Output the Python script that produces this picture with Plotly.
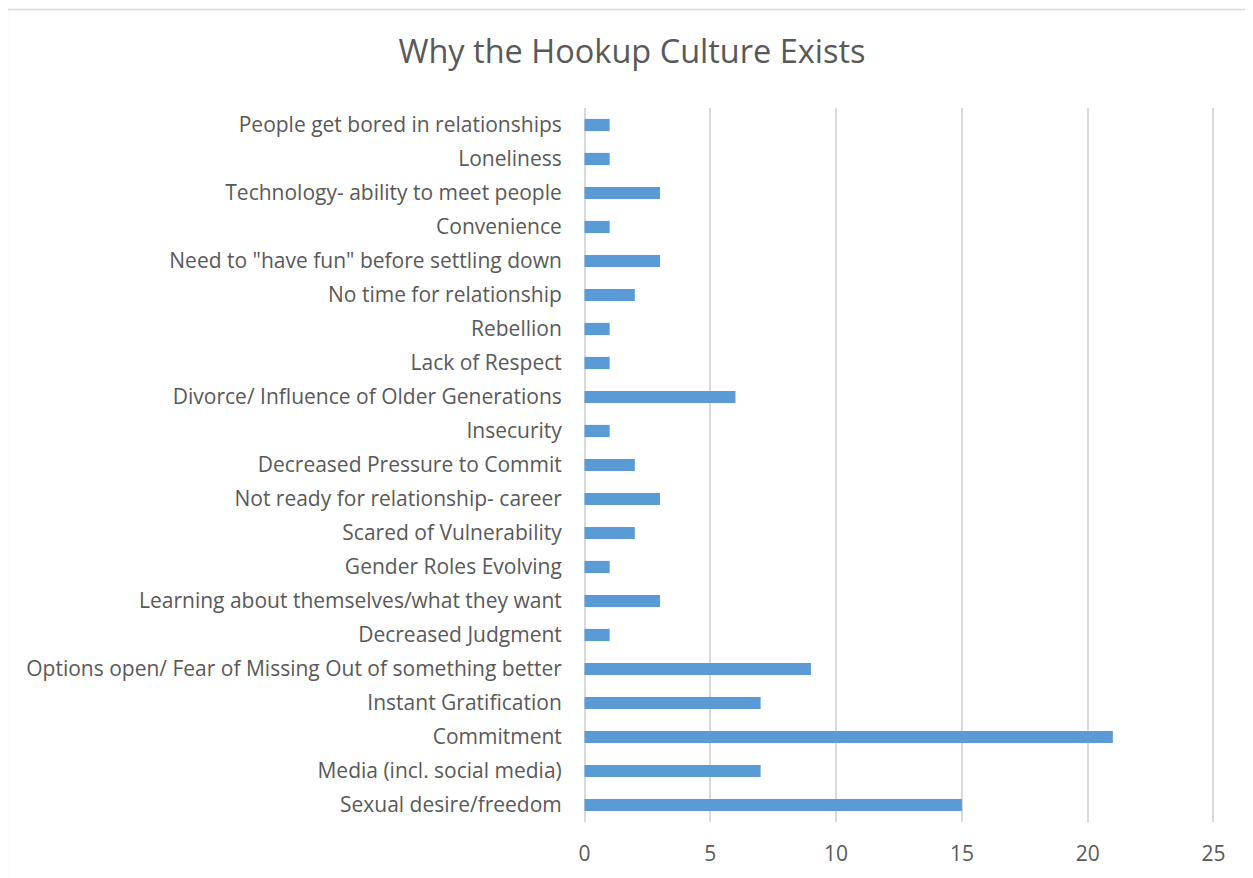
import plotly.graph_objects as go

categories = [
    "Sexual desire/freedom",
    "Media (incl. social media)",
    "Commitment",
    "Instant Gratification",
    "Options open/ Fear of Missing Out of something better",
    "Decreased Judgment",
    "Learning about themselves/what they want",
    "Gender Roles Evolving",
    "Scared of Vulnerability",
    "Not ready for relationship- career",
    "Decreased Pressure to Commit",
    "Insecurity",
    "Divorce/ Influence of Older Generations",
    "Lack of Respect",
    "Rebellion",
    "No time for relationship",
    "Need to \"have fun\" before settling down",
    "Convenience",
    "Technology- ability to meet people",
    "Loneliness",
    "People get bored in relationships",
]
values = [15, 7, 21, 7, 9, 1, 3, 1, 2, 3, 2, 1, 6, 1, 1, 2, 3, 1, 3, 1, 1]
x_ticks = [0, 5, 10, 15, 20, 25]

# page body has 8px margin, so figure coordinates are screen - 8
OFF = 8
W, H = 1245, 870
pad = 0.06
ppu = (1213 - 585) / 25.0
L = 585 - OFF - pad * ppu
Rt = 1213 - OFF + pad * ppu
R = W - Rt
T = 108 - OFF
B = H - (822 - OFF)
pw, ph = W - L - R, H - T - B

fig = go.Figure(go.Bar(
    x=values, y=categories, orientation="h",
    marker=dict(color="#5B9BD5", line=dict(width=0)),
    width=0.36,
))

fig.update_layout(
    width=W, height=H,
    margin=dict(l=L, r=R, t=T, b=B, autoexpand=False),
    paper_bgcolor="white", plot_bgcolor="white",
    font=dict(family="Open Sans, Segoe UI, sans-serif", color="#595959", size=21),
    title=dict(text="Why the Hookup Culture Exists", x=(632 - OFF) / W, xanchor="center",
               y=1 - (52 - OFF) / H, yanchor="middle",
               font=dict(size=32.5, color="#595959")),
    showlegend=False,
)
fig.update_xaxes(
    range=[-pad, 25 + pad], tickvals=x_ticks, ticktext=[str(v) for v in x_ticks],
    showgrid=True, gridcolor="#d9d9d9", gridwidth=1.5,
    zeroline=False, showline=False,
    ticks="outside", ticklen=13, tickcolor="rgba(0,0,0,0)",
    tickfont=dict(size=21, color="#595959"),
)
fig.update_yaxes(
    categoryorder="array", categoryarray=categories,
    range=[-0.5, len(categories) - 0.5],
    showgrid=False, zeroline=False, showline=False,
    ticks="outside", ticklen=16, tickcolor="rgba(0,0,0,0)",
    tickfont=dict(size=21, color="#595959"),
)

# outer chart border (light gray)
fig.add_shape(type="rect", xref="paper", yref="paper",
              x0=(0.75 - L) / pw, x1=(W + 20 - L) / pw,
              y0=-(B + 20) / ph, y1=1 + (T - 1.5) / ph,
              line=dict(color="#d9d9d9", width=1.5), fillcolor="rgba(0,0,0,0)",
              layer="below")

fig.write_html("out.html")
